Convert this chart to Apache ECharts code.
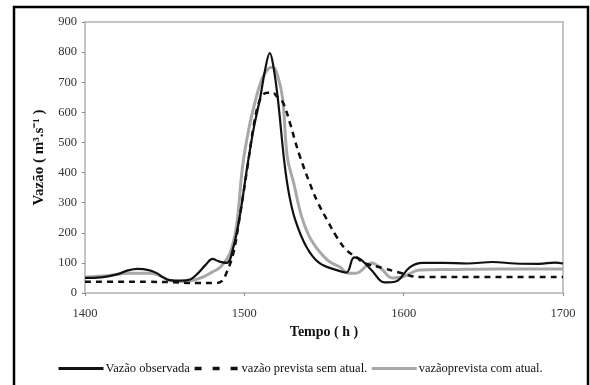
<!DOCTYPE html>
<html>
<head>
<meta charset="utf-8">
<script src="https://cdn.jsdelivr.net/npm/echarts@6/dist/echarts.min.js"></script>
<style>
  html, body { margin: 0; padding: 0; background: #fff; }
  #chart { width: 590px; height: 385px; }
</style>
</head>
<body>
<div id="chart"></div>
<script>
// Hydrograph: observed discharge vs. forecasts with and without updating
const xTicks = [1400, 1500, 1600, 1700];
const yTicks = [0, 100, 200, 300, 400, 500, 600, 700, 800, 900];

const obsHours = [1400, 1410, 1420, 1427, 1433, 1440, 1445, 1449, 1453, 1460, 1466, 1471, 1476, 1480, 1484, 1489, 1493, 1497, 1502, 1506, 1510, 1513, 1516, 1518, 1521, 1525, 1528, 1532, 1539, 1547, 1558, 1564, 1569, 1573, 1580, 1588, 1595, 1604, 1612, 1625, 1640, 1656, 1670, 1685, 1695, 1700];
const obsFlow  = [50, 52, 62, 75, 80, 76, 66, 52, 43, 41, 45, 66, 95, 113, 105, 100, 150, 250, 425, 550, 650, 740, 797, 760, 647, 440, 330, 242, 153, 100, 76, 68, 118, 112, 75, 35, 38, 86, 100, 100, 98, 103, 98, 97, 101, 98];

const noUpdHours = [1400, 1420, 1440, 1455, 1470, 1482, 1486, 1489, 1493, 1497, 1502, 1506, 1509, 1512, 1515, 1518, 1520, 1524, 1529, 1532, 1535, 1541, 1546, 1552, 1558, 1564, 1571, 1575, 1587, 1596, 1610, 1650, 1700];
const noUpdFlow  = [37, 37, 37, 36, 33, 33, 40, 70, 130, 250, 420, 560, 630, 660, 665, 665, 655, 635, 558, 502, 452, 365, 302, 242, 186, 143, 116, 100, 83, 70, 53, 53, 53];

const updHours = [1400, 1415, 1428, 1441, 1448, 1453, 1460, 1466, 1474, 1480, 1485, 1491, 1495, 1499, 1503, 1507, 1511, 1515, 1518, 1521, 1524, 1527, 1531, 1536, 1542, 1552, 1560, 1565, 1570, 1580, 1586, 1593, 1600, 1610, 1630, 1660, 1700];
const updFlow  = [53, 58, 66, 66, 55, 42, 38, 40, 53, 70, 86, 133, 220, 425, 550, 640, 710, 745, 750, 720, 647, 450, 365, 253, 176, 110, 86, 66, 66, 100, 80, 50, 55, 76, 78, 80, 80];

const seriesNames = ['Vazão observada', 'vazão prevista sem atual.', 'vazãoprevista com atual.'];

const zip = (xs, ys) => xs.map((x, i) => [x, ys[i]]);

const serif = '"Liberation Serif", "Times New Roman", serif';
const grayLine = '#a8a8a8';

const chart = echarts.init(document.getElementById('chart'), null, { renderer: 'canvas' });

chart.setOption({
  animation: false,
  backgroundColor: '#fff',
  textStyle: { fontFamily: serif },
  graphic: [{
    type: 'rect',
    shape: { x: 14, y: 7, width: 574, height: 400 },
    style: { fill: 'none', stroke: '#000', lineWidth: 2.5 },
    silent: true
  }],
  grid: {
    left: 85, right: 27, top: 22, bottom: 92,
    show: true, borderColor: '#c4c4c4', borderWidth: 2, backgroundColor: 'transparent'
  },
  legend: {
    top: 357, left: 52,
    itemWidth: 45, itemHeight: 10, itemGap: 3,
    itemStyle: { opacity: 0 },
    textStyle: { fontFamily: serif, fontSize: 12.5, color: '#111', padding: [0, 0, 0, -3] },
    data: [
      { name: seriesNames[0], lineStyle: { width: 3 } },
      { name: seriesNames[1], lineStyle: { width: 3.5, type: [7, 11] } },
      { name: seriesNames[2], lineStyle: { width: 3 } }
    ]
  },
  xAxis: {
    type: 'value',
    min: xTicks[0], max: xTicks[xTicks.length - 1], interval: 100,
    name: 'Tempo ( h )', nameLocation: 'middle', nameGap: 27,
    nameTextStyle: { fontFamily: serif, fontSize: 14, fontWeight: 'bold', color: '#111' },
    axisLine: { show: true, lineStyle: { color: '#c4c4c4', width: 2 } },
    axisTick: { show: true, length: 3, inside: false, lineStyle: { color: '#888' } },
    axisLabel: { margin: 14, fontFamily: serif, fontSize: 12.5, color: '#333', formatter: v => String(v) },
    splitLine: { show: false }
  },
  yAxis: {
    type: 'value',
    min: yTicks[0], max: yTicks[yTicks.length - 1], interval: 100,
    name: 'Vazão ( m³.s⁻¹ )', nameLocation: 'middle', nameGap: 38,
    nameTextStyle: { fontFamily: serif, fontSize: 15, fontWeight: 'bold', color: '#111' },
    axisLine: { show: true, lineStyle: { color: '#c4c4c4', width: 2 } },
    axisTick: { show: true, length: 3, lineStyle: { color: '#888' } },
    axisLabel: { margin: 8, fontFamily: serif, fontSize: 12.5, color: '#333', formatter: v => String(v) },
    splitLine: { show: false }
  },
  series: [
    {
      name: seriesNames[0], type: 'line', symbol: 'none', smooth: 0.4, z: 4,
      data: zip(obsHours, obsFlow),
      itemStyle: { color: '#111' },
      lineStyle: { color: '#111', width: 2.2 }
    },
    {
      name: seriesNames[1], type: 'line', symbol: 'none', smooth: 0.4, z: 3,
      data: zip(noUpdHours, noUpdFlow),
      itemStyle: { color: '#111' },
      lineStyle: { color: '#111', width: 2.5, type: [6, 5] }
    },
    {
      name: seriesNames[2], type: 'line', symbol: 'none', smooth: 0.4, z: 2,
      data: zip(updHours, updFlow),
      itemStyle: { color: grayLine },
      lineStyle: { color: grayLine, width: 3 }
    }
  ]
});
</script>
</body>
</html>
